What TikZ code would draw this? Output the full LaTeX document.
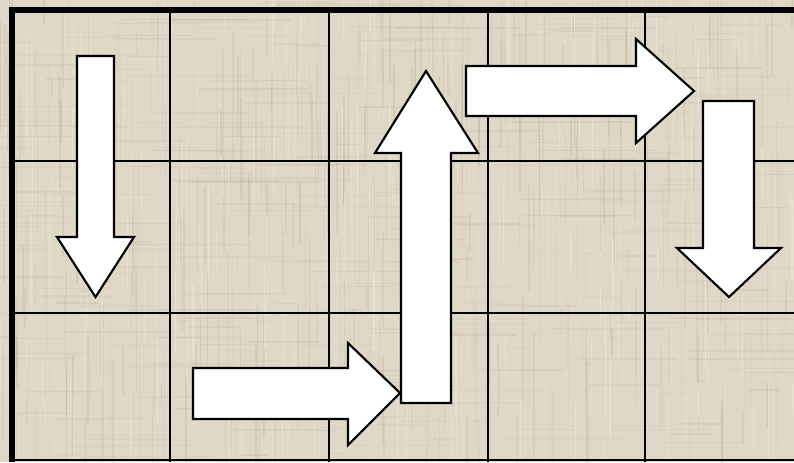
\documentclass[tikz,border=0pt]{standalone}
\definecolor{linen}{RGB}{224,216,198}
\definecolor{linendark}{RGB}{160,146,120}
\definecolor{linenlight}{RGB}{245,240,228}
\tikzset{
  gridline/.style={draw=black, line width=2.2pt},
  borderline/.style={draw=black, line width=4.5pt},
  bigarrow/.style={draw=black, fill=white, line width=1.6pt, line join=miter},
}
\begin{document}
\begin{tikzpicture}[x=0.75pt, y=-0.75pt]
\useasboundingbox (0,0) rectangle (794,462);
\fill[linen] (0,0) rectangle (794,462);
% linen texture
\pgfmathsetseed{7}
\begin{scope}
\clip (0,0) rectangle (794,462);
\foreach \i in {1,...,450}{
  \pgfmathsetmacro\xx{rnd*794}
  \pgfmathsetmacro\yy{rnd*462-40}
  \pgfmathsetmacro\ll{20+rnd*110}
  \pgfmathsetmacro\op{0.05+0.14*rnd}
  \pgfmathsetmacro\lw{0.4+rnd*1.2}
  \draw[linendark, opacity=\op, line width=\lw pt] (\xx,\yy) -- ++(0,\ll);
}
\foreach \i in {1,...,350}{
  \pgfmathsetmacro\xx{rnd*794-40}
  \pgfmathsetmacro\yy{rnd*462}
  \pgfmathsetmacro\ll{20+rnd*110}
  \pgfmathsetmacro\op{0.04+0.12*rnd}
  \pgfmathsetmacro\lw{0.4+rnd*1.2}
  \draw[linendark, opacity=\op, line width=\lw pt] (\xx,\yy) -- ++(\ll,0);
}
\foreach \i in {1,...,300}{
  \pgfmathsetmacro\xx{rnd*794}
  \pgfmathsetmacro\yy{rnd*462-40}
  \pgfmathsetmacro\ll{20+rnd*90}
  \pgfmathsetmacro\op{0.15+0.3*rnd}
  \draw[linenlight, opacity=\op, line width=0.8pt] (\xx,\yy) -- ++(0,\ll);
}
\end{scope}
% grid
\foreach \x in {170,329,488,645}{
  \draw[gridline] (\x,10) -- (\x,462);
}
\foreach \y in {161,313,460}{
  \draw[gridline] (12,\y) -- (794,\y);
}
\draw[borderline] (12,462) -- (12,10) -- (794,10);
% arrows
\draw[bigarrow] (77,56) -- (114,56) -- (114,237) -- (134,237) -- (95.5,297) -- (57,237) -- (77,237) -- cycle;
\draw[bigarrow] (401,403) -- (451,403) -- (451,153) -- (478,153) -- (426,71) -- (375,153) -- (401,153) -- cycle;
\draw[bigarrow] (193,368) -- (348,368) -- (348,343) -- (400,393) -- (348,445) -- (348,419) -- (193,419) -- cycle;
\draw[bigarrow] (466,66) -- (636,66) -- (636,39) -- (694,91) -- (636,143) -- (636,116) -- (466,116) -- cycle;
\draw[bigarrow] (703,101) -- (754,101) -- (754,248) -- (781,248) -- (729,297) -- (677,248) -- (703,248) -- cycle;
\end{tikzpicture}
\end{document}
